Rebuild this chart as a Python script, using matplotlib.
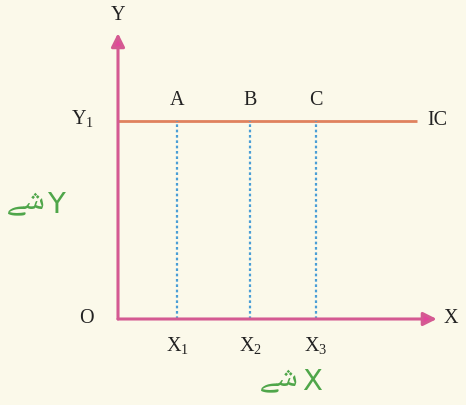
import matplotlib
matplotlib.use("Agg")
import matplotlib.pyplot as plt

# ---- data (diagram units) ----
quantities = [0.9, 2.0, 3.0]          # X1, X2, X3
point_labels = ["A", "B", "C"]
qty_labels = ["X$_\\mathregular{1}$", "X$_\\mathregular{2}$", "X$_\\mathregular{3}$"]
y_level = 3.0                          # Y1
ic_end = 4.53
x_axis_end = 4.83
y_axis_end = 4.33
curve_label = "IC"
good_word = "\uFBAF\uFEB7"            # Urdu "شے" (good), presentation forms in visual order
good_y = "Y"
good_x = "X"

plt.rcParams['mathtext.fontset'] = 'custom'
plt.rcParams['mathtext.rm'] = 'Liberation Serif'

bg = "#fbf9ea"
pink = "#d45a92"
arrow_pink = "#e2479b"
orange = "#e0825e"
blue = "#4a9ed6"
green = "#4fa64a"
ink = "#222222"

fig = plt.figure(figsize=(4.66, 4.05), dpi=100, facecolor=bg)
ax = fig.add_axes([0, 0, 1, 1])
ax.set_facecolor(bg)
ax.set_xlim(-1.788, 5.273)
ax.set_ylim(-1.303, 4.833)
ax.axis("off")

serif = dict(family="Liberation Serif", color=ink, fontsize=14.5)

# axes with arrows
ax.annotate("", xy=(x_axis_end, 0), xytext=(0, 0),
            arrowprops=dict(arrowstyle="-|>", mutation_scale=20, lw=2.2,
                            color=pink, fc=arrow_pink, shrinkA=0, shrinkB=0))
ax.annotate("", xy=(0, y_axis_end), xytext=(0, 0),
            arrowprops=dict(arrowstyle="-|>", mutation_scale=20, lw=2.2,
                            color=pink, fc=arrow_pink, shrinkA=0, shrinkB=0))

# IC line
ax.plot([0, ic_end], [y_level, y_level], color=orange, lw=2.0, solid_capstyle="butt")

# dashed verticals
for q in quantities:
    ax.plot([q, q], [0, y_level], color=blue, lw=1.6, linestyle=(0, (1.2, 1.2)))

# labels
for q, lab in zip(quantities, point_labels):
    ax.text(q, y_level + 0.17, lab, ha="center", va="bottom", **serif)
for q, lab in zip(quantities, qty_labels):
    ax.text(q, -0.25, lab, ha="center", va="top", **serif)

ax.text(ic_end + 0.15, y_level, curve_label, ha="left", va="center", **serif)
ax.text(-0.37, y_level + 0.02, "Y$_\\mathregular{1}$", ha="right", va="center", **serif)
ax.text(-0.37, 0.0, "O", ha="right", va="center", **serif)
ax.text(x_axis_end + 0.1, 0.0, "X", ha="left", va="center", **serif)
ax.text(0.0, y_axis_end + 0.12, "Y", ha="center", va="bottom", **serif)

# green axis titles (Urdu "good Y" / "good X")
latin = dict(family=["DejaVu Sans"], color=green, fontsize=21)
urdu = dict(family=["Noto Naskh Arabic", "DejaVu Sans"], color=green, fontsize=23)
ax.text(-0.94, 1.73, good_y, ha="center", va="center", **latin)
ax.text(-1.10, 1.81, good_word, ha="right", va="center", **urdu)
ax.text(2.94, -0.95, good_x, ha="center", va="center", **latin)
ax.text(2.74, -0.87, good_word, ha="right", va="center", **urdu)

fig.savefig("out.png", dpi=100, facecolor=bg)
